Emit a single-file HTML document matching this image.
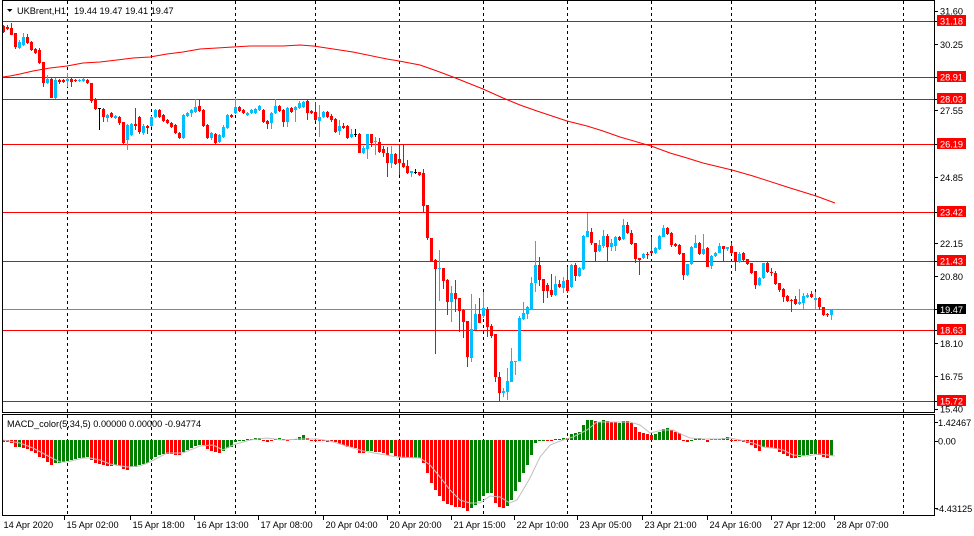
<!DOCTYPE html>
<html><head><meta charset="utf-8"><style>
html,body{margin:0;padding:0;background:#fff;}
svg{display:block;}
text{font-family:"Liberation Sans",Arial,sans-serif;font-size:9.2px;fill:#000;}
.w{fill:#fff;}
</style></head><body>
<svg width="974" height="536" viewBox="0 0 974 536" xmlns="http://www.w3.org/2000/svg">
<rect x="0" y="0" width="974" height="536" fill="#fff"/>
<!-- grid -->
<g stroke="#000" stroke-width="1" stroke-dasharray="3,3">
<path d="M67.5 1V515M151.5 1V515M235.5 1V515M315.5 1V515M399.5 1V515M483.5 1V515M567.5 1V515M651.5 1V515M731.5 1V515M815.5 1V515M903.5 1V515"/>
</g>
<!-- horizontal levels -->
<g stroke="#ff0000" stroke-width="1">
<path d="M3 21.5H934M3 77.5H934M3 99.5H934M3 144.5H934M3 212.5H934M3 261.5H934M3 330.5H934M3 401.5H934"/>
</g>
<path d="M3 309.5H934" stroke="#778899" stroke-width="1"/>
<!-- MA -->
<polyline fill="none" stroke="#ff0000" stroke-width="1" points="3,77 10,76 20,74 33,71 50,68 67,66 83,63 100,62 117,60 133,58 150,57 167,54 183,52 200,49 217,48 233,47 250,46 267,46 283,46 300,45 313,46 320,47 353,52 387,59 399,61 420,65 437,71 453,77 483,89 503,98 520,105 537,111 567,121 587,126 603,131 620,137 651,146 670,153 687,158 703,163 732,170 753,176 787,187 816,196 835,203"/>
<!-- wicks -->
<path stroke="#ff0000" stroke-width="1" fill="none" d="M3.5 25V33M7.5 25V30M11.5 23V35M15.5 33V49M27.5 34V44M31.5 41V51M35.5 48V54M39.5 48V64M43.5 62V87M51.5 78V98M59.5 79V84M63.5 79V83M71.5 78V87M75.5 79V82M87.5 79V84M91.5 83V103M95.5 98V110M103.5 108V122M111.5 112V118M119.5 116V125M123.5 122V145M135.5 108V130M139.5 116V134M147.5 125V134M159.5 109V118M163.5 114V122M167.5 119V124M171.5 122V128M175.5 124V134M179.5 132V139M199.5 99V112M203.5 109V127M207.5 124V139M215.5 133V144M231.5 114V118M239.5 106V112M243.5 109V114M263.5 109V123M267.5 120V129M279.5 105V112M283.5 109V127M291.5 107V113M307.5 100V120M311.5 110V114M315.5 102V121M327.5 111V118M331.5 114V122M335.5 118V133M343.5 123V129M347.5 125V139M359.5 133V153M371.5 134V147M379.5 138V153M383.5 146V157M387.5 147V177M395.5 153V165M399.5 145V175M403.5 145V168M407.5 160V174M419.5 172V176M423.5 169V212M427.5 205V240M431.5 238V262M435.5 259V354M443.5 268V289M447.5 279V315M455.5 280V312M459.5 298V332M463.5 309V338M467.5 321V367M479.5 298V323M487.5 307V337M491.5 324V338M495.5 334V382M499.5 372V401M539.5 257V286M543.5 279V303M547.5 283V298M551.5 274V297M559.5 280V288M567.5 267V293M575.5 263V281M591.5 228V245M595.5 243V262M607.5 234V262M619.5 236V241M627.5 222V234M631.5 230V245M635.5 243V263M639.5 258V275M647.5 252V259M651.5 237V253M667.5 227V235M671.5 232V247M675.5 243V247M679.5 244V255M683.5 253V280M699.5 242V255M707.5 247V267M723.5 246V261M731.5 243V254M735.5 252V271M743.5 252V261M747.5 259V265M751.5 263V274M755.5 271V289M767.5 262V273M771.5 268V276M775.5 271V285M779.5 283V292M783.5 288V302M787.5 295V302M791.5 299V312M795.5 296V305M811.5 291V298M819.5 297V310M823.5 307V316M827.5 313V317"/>
<path stroke="#00bfff" stroke-width="1" fill="none" d="M19.5 40V49M23.5 33V46M47.5 75V84M55.5 78V99M67.5 73V87M79.5 79V82M83.5 78V82M107.5 114V122M115.5 115V119M127.5 124V150M131.5 123V136M143.5 124V135M151.5 116V127M155.5 109V118M183.5 114V139M187.5 112V117M191.5 109V117M195.5 99V113M211.5 132V140M219.5 134V143M223.5 125V138M227.5 114V129M235.5 98V114M247.5 112V116M251.5 109V114M255.5 108V114M259.5 105V111M271.5 112V129M275.5 99V114M287.5 107V127M295.5 106V122M299.5 101V109M303.5 101V108M319.5 105V137M323.5 111V118M339.5 120V135M351.5 129V138M363.5 146V154M367.5 134V159M375.5 137V155M391.5 146V168M411.5 171V177M439.5 250V301M451.5 286V322M471.5 294V362M475.5 304V330M483.5 292V318M503.5 388V397M507.5 368V400M511.5 348V382M515.5 361V375M519.5 316V361M523.5 302V320M527.5 306V319M531.5 277V310M535.5 241V292M555.5 276V296M563.5 277V293M571.5 264V288M579.5 267V277M583.5 235V270M587.5 213V237M599.5 240V252M603.5 230V248M611.5 239V251M615.5 236V251M623.5 219V240M643.5 253V259M655.5 247V254M659.5 235V250M663.5 225V237M687.5 264V276M691.5 246V265M695.5 235V248M703.5 234V255M711.5 255V269M715.5 252V257M719.5 243V253M727.5 247V251M739.5 252V263M759.5 277V286M763.5 263V279M799.5 289V305M803.5 293V309M807.5 293V298M815.5 292V309M831.5 309V320M835.5 309V310"/>
<path stroke="#000" stroke-width="1" fill="none" d="M99.5 108V130M98 108.5H101M355.5 129V137M354 134.5H357M415.5 169V174M414 172.5H417"/>
<!-- bodies -->
<path fill="#ff0000" d="M2 26h3v6h-3zM6 27h3v2h-3zM10 28h3v7h-3zM14 33h3v14h-3zM26 37h3v6h-3zM30 42h3v8h-3zM34 49h3v4h-3zM38 50h3v13h-3zM42 62h3v21h-3zM50 79h3v19h-3zM58 80h3v2h-3zM62 80h3v2h-3zM70 79h3v3h-3zM74 80h3v1h-3zM86 80h3v3h-3zM90 83h3v18h-3zM94 100h3v9h-3zM102 109h3v8h-3zM110 113h3v4h-3zM118 117h3v6h-3zM122 122h3v21h-3zM134 124h3v2h-3zM138 117h3v15h-3zM146 126h3v2h-3zM158 110h3v7h-3zM162 115h3v6h-3zM166 120h3v3h-3zM170 123h3v4h-3zM174 125h3v8h-3zM178 133h3v5h-3zM198 106h3v5h-3zM202 110h3v16h-3zM206 125h3v13h-3zM214 134h3v9h-3zM230 115h3v2h-3zM238 107h3v4h-3zM242 110h3v3h-3zM262 110h3v12h-3zM266 121h3v3h-3zM278 106h3v5h-3zM282 110h3v12h-3zM290 108h3v4h-3zM306 101h3v12h-3zM310 111h3v2h-3zM314 112h3v8h-3zM326 112h3v5h-3zM330 116h3v4h-3zM334 119h3v13h-3zM342 126h3v2h-3zM346 126h3v12h-3zM358 134h3v19h-3zM370 134h3v9h-3zM378 142h3v10h-3zM382 149h3v4h-3zM386 153h3v10h-3zM394 154h3v10h-3zM398 159h3v4h-3zM402 163h3v4h-3zM406 166h3v7h-3zM418 172h3v3h-3zM422 173h3v33h-3zM426 205h3v33h-3zM430 238h3v23h-3zM434 260h3v9h-3zM442 268h3v13h-3zM446 280h3v22h-3zM454 293h3v6h-3zM458 298h3v13h-3zM462 310h3v12h-3zM466 321h3v36h-3zM478 314h3v9h-3zM486 309h3v18h-3zM490 326h3v10h-3zM494 334h3v43h-3zM498 377h3v16h-3zM538 265h3v15h-3zM542 279h3v12h-3zM546 285h3v6h-3zM550 290h3v5h-3zM558 284h3v3h-3zM566 280h3v11h-3zM574 265h3v11h-3zM590 232h3v11h-3zM594 243h3v9h-3zM606 236h3v11h-3zM618 237h3v3h-3zM626 225h3v8h-3zM630 233h3v11h-3zM634 243h3v16h-3zM638 258h3v2h-3zM646 254h3v1h-3zM650 251h3v2h-3zM666 228h3v6h-3zM670 233h3v12h-3zM674 244h3v2h-3zM678 245h3v9h-3zM682 253h3v22h-3zM698 243h3v11h-3zM706 248h3v19h-3zM722 246h3v3h-3zM730 246h3v7h-3zM734 252h3v10h-3zM742 253h3v7h-3zM746 259h3v5h-3zM750 263h3v10h-3zM754 271h3v14h-3zM766 263h3v9h-3zM770 272h3v1h-3zM774 273h3v11h-3zM778 283h3v7h-3zM782 289h3v8h-3zM786 296h3v5h-3zM790 300h3v1h-3zM794 299h3v5h-3zM810 294h3v3h-3zM818 298h3v9h-3zM822 307h3v8h-3zM826 314h3v1h-3z"/>
<path fill="#00bfff" d="M18 42h3v6h-3zM22 37h3v8h-3zM46 79h3v4h-3zM54 80h3v18h-3zM66 79h3v2h-3zM78 80h3v1h-3zM82 79h3v2h-3zM106 115h3v3h-3zM114 116h3v2h-3zM126 125h3v15h-3zM130 124h3v11h-3zM142 126h3v7h-3zM150 117h3v9h-3zM154 110h3v7h-3zM182 115h3v23h-3zM186 113h3v3h-3zM190 110h3v3h-3zM194 107h3v5h-3zM210 133h3v5h-3zM218 135h3v7h-3zM222 127h3v10h-3zM226 115h3v13h-3zM234 107h3v6h-3zM246 113h3v2h-3zM250 110h3v3h-3zM254 109h3v4h-3zM258 106h3v4h-3zM270 113h3v10h-3zM274 106h3v7h-3zM286 108h3v14h-3zM294 107h3v3h-3zM298 103h3v5h-3zM302 102h3v5h-3zM318 117h3v4h-3zM322 112h3v5h-3zM338 126h3v5h-3zM350 134h3v3h-3zM362 148h3v5h-3zM366 134h3v15h-3zM374 141h3v1h-3zM390 154h3v9h-3zM410 171h3v2h-3zM438 268h3v1h-3zM450 293h3v9h-3zM470 329h3v29h-3zM474 314h3v16h-3zM482 308h3v8h-3zM502 391h3v2h-3zM506 381h3v11h-3zM510 361h3v21h-3zM514 361h3v1h-3zM518 318h3v43h-3zM522 313h3v6h-3zM526 307h3v7h-3zM530 283h3v26h-3zM534 265h3v18h-3zM554 284h3v11h-3zM562 281h3v7h-3zM570 265h3v22h-3zM578 268h3v8h-3zM582 236h3v33h-3zM586 231h3v6h-3zM598 245h3v6h-3zM602 236h3v10h-3zM610 243h3v4h-3zM614 237h3v9h-3zM622 225h3v14h-3zM642 254h3v4h-3zM654 248h3v5h-3zM658 236h3v13h-3zM662 228h3v9h-3zM686 264h3v11h-3zM690 247h3v17h-3zM694 243h3v5h-3zM702 249h3v5h-3zM710 256h3v10h-3zM714 253h3v3h-3zM718 246h3v7h-3zM726 247h3v2h-3zM738 254h3v8h-3zM758 278h3v7h-3zM762 263h3v15h-3zM798 302h3v2h-3zM802 296h3v7h-3zM806 295h3v2h-3zM814 298h3v2h-3zM830 310h3v5h-3zM834 309h3v1h-3z"/>
<!-- MACD histogram -->
<path fill="#ff0000" d="M2 440h3v2h-3zM6 440h3v2h-3zM10 440h3v3h-3zM14 440h3v7h-3zM22 440h3v8h-3zM26 440h3v9h-3zM30 440h3v11h-3zM34 440h3v13h-3zM38 440h3v17h-3zM42 440h3v18h-3zM46 440h3v22h-3zM50 440h3v25h-3zM90 440h3v20h-3zM94 440h3v23h-3zM98 440h3v24h-3zM102 440h3v25h-3zM106 440h3v26h-3zM110 440h3v26h-3zM118 440h3v26h-3zM122 440h3v29h-3zM126 440h3v30h-3zM166 440h3v14h-3zM170 440h3v14h-3zM174 440h3v15h-3zM178 440h3v15h-3zM202 440h3v5h-3zM206 440h3v9h-3zM210 440h3v11h-3zM214 440h3v12h-3zM218 440h3v13h-3zM262 440h3v1h-3zM266 440h3v2h-3zM270 440h3v1h-3zM286 440h3v1h-3zM306 438h3v2h-3zM310 440h3v1h-3zM314 440h3v1h-3zM318 440h3v1h-3zM322 440h3v1h-3zM326 440h3v2h-3zM330 440h3v1h-3zM334 440h3v2h-3zM338 440h3v4h-3zM342 440h3v5h-3zM346 440h3v7h-3zM350 440h3v7h-3zM354 440h3v8h-3zM358 440h3v13h-3zM362 440h3v13h-3zM374 440h3v12h-3zM378 440h3v12h-3zM382 440h3v13h-3zM386 440h3v15h-3zM394 440h3v16h-3zM398 440h3v17h-3zM402 440h3v18h-3zM406 440h3v18h-3zM410 440h3v18h-3zM422 440h3v23h-3zM426 440h3v33h-3zM430 440h3v43h-3zM434 440h3v50h-3zM438 440h3v56h-3zM442 440h3v61h-3zM446 440h3v64h-3zM450 440h3v65h-3zM454 440h3v67h-3zM458 440h3v67h-3zM462 440h3v68h-3zM466 440h3v71h-3zM494 440h3v63h-3zM498 440h3v67h-3zM502 440h3v68h-3zM546 440h3v1h-3zM550 440h3v1h-3zM566 438h3v2h-3zM594 421h3v19h-3zM606 421h3v19h-3zM610 422h3v18h-3zM614 422h3v18h-3zM626 421h3v19h-3zM630 423h3v17h-3zM634 427h3v13h-3zM638 432h3v8h-3zM642 433h3v7h-3zM646 434h3v6h-3zM650 435h3v5h-3zM670 430h3v10h-3zM674 432h3v8h-3zM678 433h3v7h-3zM682 440h3v1h-3zM686 440h3v2h-3zM702 439h3v1h-3zM706 440h3v2h-3zM730 440h3v1h-3zM734 440h3v1h-3zM738 440h3v1h-3zM742 440h3v2h-3zM746 440h3v3h-3zM750 440h3v5h-3zM754 440h3v8h-3zM758 440h3v11h-3zM766 440h3v7h-3zM770 440h3v8h-3zM774 440h3v9h-3zM778 440h3v12h-3zM782 440h3v14h-3zM786 440h3v16h-3zM790 440h3v18h-3zM794 440h3v18h-3zM818 440h3v15h-3zM822 440h3v17h-3zM826 440h3v18h-3z"/>
<path fill="#008000" d="M18 440h3v7h-3zM54 440h3v23h-3zM58 440h3v23h-3zM62 440h3v22h-3zM66 440h3v21h-3zM70 440h3v20h-3zM74 440h3v19h-3zM78 440h3v18h-3zM82 440h3v18h-3zM86 440h3v17h-3zM114 440h3v25h-3zM130 440h3v27h-3zM134 440h3v27h-3zM138 440h3v25h-3zM142 440h3v24h-3zM146 440h3v23h-3zM150 440h3v19h-3zM154 440h3v17h-3zM158 440h3v15h-3zM162 440h3v14h-3zM182 440h3v12h-3zM186 440h3v10h-3zM190 440h3v8h-3zM194 440h3v6h-3zM198 440h3v5h-3zM222 440h3v11h-3zM226 440h3v8h-3zM230 440h3v7h-3zM234 440h3v2h-3zM238 440h3v1h-3zM242 440h3v1h-3zM246 439h3v1h-3zM250 439h3v1h-3zM254 438h3v2h-3zM258 438h3v2h-3zM274 439h3v1h-3zM278 438h3v2h-3zM282 439h3v1h-3zM290 439h3v1h-3zM294 439h3v1h-3zM298 437h3v3h-3zM302 435h3v5h-3zM366 440h3v11h-3zM370 440h3v11h-3zM390 440h3v13h-3zM414 440h3v18h-3zM418 440h3v18h-3zM470 440h3v68h-3zM474 440h3v65h-3zM478 440h3v61h-3zM482 440h3v56h-3zM486 440h3v53h-3zM490 440h3v53h-3zM506 440h3v66h-3zM510 440h3v60h-3zM514 440h3v51h-3zM518 440h3v42h-3zM522 440h3v33h-3zM526 440h3v25h-3zM530 440h3v15h-3zM534 440h3v3h-3zM538 440h3v1h-3zM542 440h3v1h-3zM554 439h3v1h-3zM558 439h3v1h-3zM562 438h3v2h-3zM570 434h3v6h-3zM574 433h3v7h-3zM578 432h3v8h-3zM582 425h3v15h-3zM586 420h3v20h-3zM590 420h3v20h-3zM598 422h3v18h-3zM602 420h3v20h-3zM618 423h3v17h-3zM622 421h3v19h-3zM654 434h3v6h-3zM658 432h3v8h-3zM662 429h3v11h-3zM666 428h3v12h-3zM690 440h3v1h-3zM694 438h3v2h-3zM698 438h3v2h-3zM710 439h3v1h-3zM714 439h3v1h-3zM718 439h3v1h-3zM722 438h3v2h-3zM726 437h3v3h-3zM762 440h3v7h-3zM798 440h3v17h-3zM802 440h3v16h-3zM806 440h3v15h-3zM810 440h3v14h-3zM814 440h3v14h-3zM830 440h3v16h-3z"/>
<polyline fill="none" stroke="#c0c0c0" stroke-width="1" points="3,440 20,443 33,448 50,457 60,462 67,462 83,458 90,458 100,460 110,464 127,467 140,466 150,462 167,453 183,453 200,446 213,445 223,450 233,445 250,440 267,438 283,440 300,439 317,439 330,441 363,451 397,457 420,458 430,465 440,477 450,490 460,500 470,503 480,503 490,496 500,497 510,503 517,500 523,490 530,478 540,457 550,445 563,440 573,437 587,430 597,422 607,422 630,422 640,425 650,433 663,430 673,430 683,435 690,438 703,439 720,439 730,438 740,440 753,443 763,447 773,448 783,450 793,455 807,456 820,454 835,456"/>
<!-- borders -->
<g fill="none" stroke="#000" stroke-width="1">
<rect x="2.5" y="0.5" width="932" height="412"/>
<rect x="2.5" y="414.5" width="932" height="101"/>
<path d="M934 11.5h4M934 44.5h4M934 110.5h4M934 177.5h4M934 243.5h4M934 276.5h4M934 343.5h4M934 376.5h4M934 409.5h4M934 21.5h3M934 77.5h3M934 99.5h3M934 144.5h3M934 212.5h3M934 261.5h3M934 309.5h3M934 330.5h3M934 401.5h3M934 422.5h4M934 441.5h4M934 508.5h4"/>
<path d="M64.5 515V520M130.5 515V520M194.5 515V520M258.5 515V520M323.5 515V520M387.5 515V520M451.5 515V520M514.5 515V520M577.5 515V520M642.5 515V520M707.5 515V520M771.5 515V520M834.5 515V520"/>
</g>
<!-- title -->
<polygon points="7,9 12.5,9 9.75,12" fill="#000"/>
<text x="17" y="14">UKBrent,H1</text>
<text x="74" y="14">19.44 19.47 19.41 19.47</text>
<text x="7" y="427">MACD_color(5,34,5) 0.00000 0.00000 -0.94774</text>
<!-- price axis -->
<text x="940" y="14.5">31.60</text>
<text x="940" y="48">30.25</text>
<text x="940" y="114">27.55</text>
<text x="940" y="181">24.85</text>
<text x="940" y="247">22.15</text>
<text x="940" y="280">20.80</text>
<text x="940" y="347">18.10</text>
<text x="940" y="380">16.75</text>
<text x="940" y="412.5">15.40</text>
<g fill="#ff0000">
<rect x="937" y="15" width="29" height="11"/>
<rect x="937" y="71" width="29" height="11"/>
<rect x="937" y="93" width="29" height="11"/>
<rect x="937" y="138" width="29" height="11"/>
<rect x="937" y="206" width="29" height="11"/>
<rect x="937" y="255" width="29" height="11"/>
<rect x="937" y="324" width="29" height="11"/>
<rect x="937" y="395" width="29" height="11"/>
</g>
<rect x="937" y="304" width="29" height="10" fill="#000"/>
<text class="w" x="940" y="24.5">31.18</text>
<text class="w" x="940" y="80.5">28.91</text>
<text class="w" x="940" y="102.5">28.03</text>
<text class="w" x="940" y="147.5">26.19</text>
<text class="w" x="940" y="215.5">23.42</text>
<text class="w" x="940" y="264.5">21.43</text>
<text class="w" x="940" y="313">19.47</text>
<text class="w" x="940" y="333.5">18.63</text>
<text class="w" x="940" y="404.5">15.72</text>
<!-- macd axis -->
<text x="938" y="426">1.42467</text>
<text x="938" y="444.5">0.00</text>
<text x="936" y="512">-4.43125</text>
<!-- time axis -->
<text x="3.5" y="528">14 Apr 2020</text>
<text x="66.5" y="528">15 Apr 02:00</text>
<text x="132.5" y="528">15 Apr 18:00</text>
<text x="196.5" y="528">16 Apr 13:00</text>
<text x="260.5" y="528">17 Apr 08:00</text>
<text x="325.5" y="528">20 Apr 04:00</text>
<text x="389.5" y="528">20 Apr 20:00</text>
<text x="453.5" y="528">21 Apr 15:00</text>
<text x="516.5" y="528">22 Apr 10:00</text>
<text x="579.5" y="528">23 Apr 05:00</text>
<text x="644.5" y="528">23 Apr 21:00</text>
<text x="709.5" y="528">24 Apr 16:00</text>
<text x="773.5" y="528">27 Apr 12:00</text>
<text x="836.5" y="528">28 Apr 07:00</text>
</svg>
</body></html>
